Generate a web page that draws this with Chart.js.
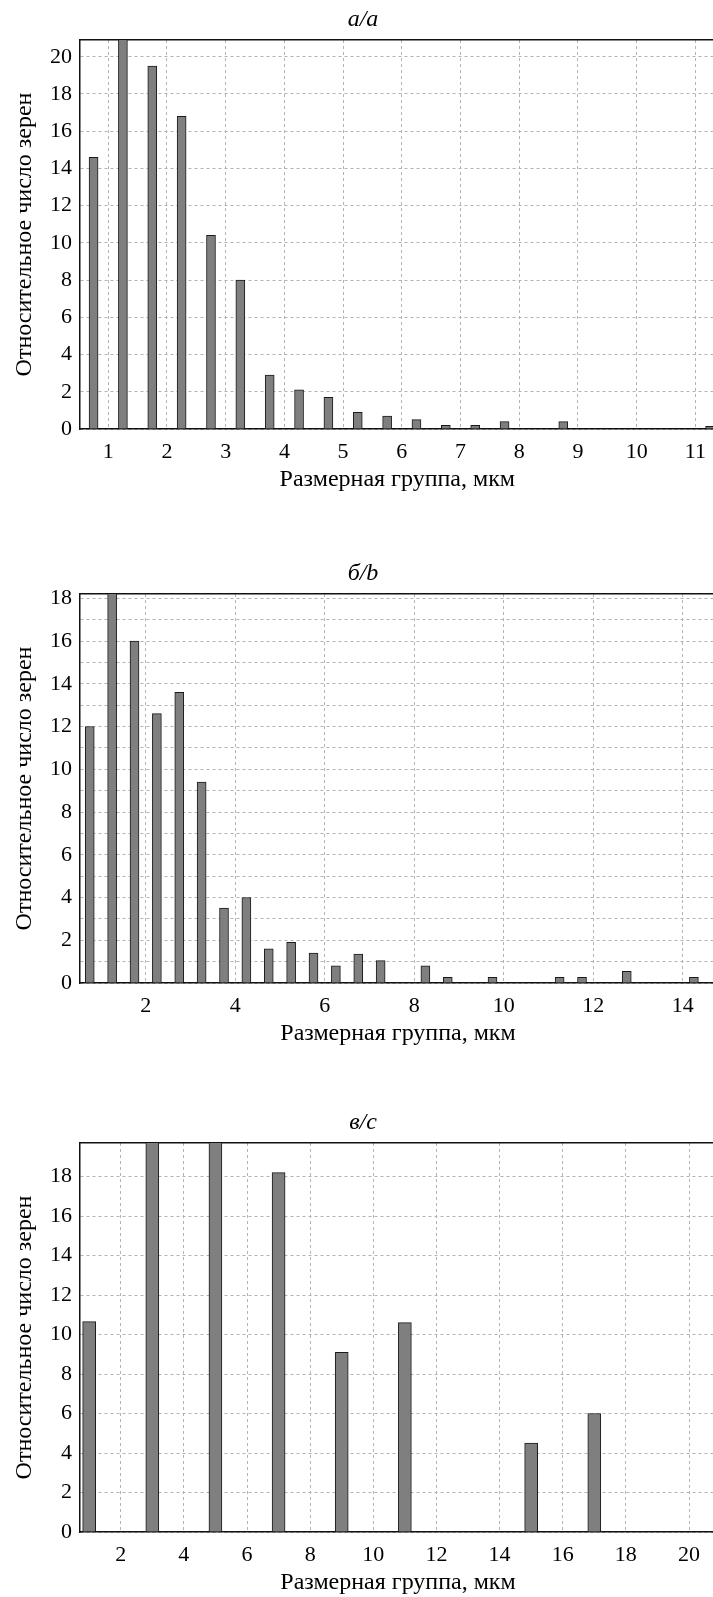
<!DOCTYPE html>
<html lang="ru">
<head>
<meta charset="utf-8">
<title>Распределение зерен по размерным группам</title>
<script src="https://cdn.jsdelivr.net/npm/chart.js@4.4.1/dist/chart.umd.min.js"></script>
<style>
    html, body { margin: 0; padding: 0; background: #fff; }
    body { position: relative; width: 713px; height: 1597px; overflow: hidden; }
    canvas { position: absolute; left: 0; }
</style>
</head>
<body>
<canvas id="chartA" width="716" height="500" style="top:0px"></canvas>
<canvas id="chartB" width="716" height="500" style="top:554px"></canvas>
<canvas id="chartC" width="716" height="500" style="top:1103px"></canvas>
<script>
// panel а/a
const sizesA  = [0.75, 1.25, 1.75, 2.25, 2.75, 3.25, 3.75, 4.25, 4.75, 5.25, 5.75, 6.25, 6.75, 7.25, 7.75, 8.75, 11.25];
const valuesA = [14.6, 21.5, 19.5, 16.8, 10.4, 8.0, 2.9, 2.1, 1.7, 0.9, 0.7, 0.5, 0.2, 0.2, 0.4, 0.4, 0.15];
const xRangeA = [0.519, 11.328];
const yRangeA = [0, 20.9];

// panel б/b
const sizesB  = [0.75, 1.25, 1.75, 2.25, 2.75, 3.25, 3.75, 4.25, 4.75, 5.25, 5.75, 6.25, 6.75, 7.25, 8.25, 8.75, 9.75, 11.25, 11.75, 12.75, 14.25];
const valuesB = [12.0, 18.6, 16.0, 12.6, 13.6, 9.4, 3.5, 4.0, 1.6, 1.9, 1.4, 0.8, 1.35, 1.05, 0.8, 0.27, 0.27, 0.27, 0.27, 0.55, 0.27];
const xRangeB = [0.532, 14.744];
const yRangeB = [0, 18.2];

// panel в/c
const sizesC  = [1, 3, 5, 7, 9, 11, 15, 17];
const valuesC = [10.65, 20.4, 20.4, 18.2, 9.1, 10.6, 4.5, 6.0];
const xRangeC = [0.71, 20.855];
const yRangeC = [0, 19.7];

const yTitle = 'Относительное число зерен';
const xTitle = 'Размерная группа, мкм';

const SERIF = "'Liberation Serif', 'Times New Roman', serif";
const GRID  = '#b3b3b3';
const AXIS  = '#111';

Chart.defaults.font.family = SERIF;
Chart.defaults.color = '#000';

/**
 * one histogram panel
 */
function buildPanel(canvasId, cfg) {
    let canvas = document.getElementById(canvasId);

    return new Chart(canvas, {
        type: 'bar',
        data: {
            datasets: [{
                data           : cfg.sizes.map((x, i) => ({x, y: cfg.values[i]})),
                xAxisID        : 'x',
                yAxisID        : 'y',
                backgroundColor: '#7f7f7f',
                borderColor    : '#1a1a1a',
                borderWidth    : 1,
                barThickness   : cfg.barWidth,
                clip           : 0
            }]
        },
        options: {
            responsive: false,
            animation : false,
            layout    : {padding: {left: 10, right: 0, top: 0, bottom: 0}},
            plugins   : {
                legend : {display: false},
                tooltip: {enabled: false},
                title  : {
                    display: true,
                    text   : cfg.title,
                    color  : '#000',
                    font   : {size: 24, style: 'italic', weight: 'normal', family: SERIF},
                    padding: {top: 5, bottom: 6.2}
                }
            },
            scales: {
                x: {
                    type    : 'linear',
                    position: 'bottom',
                    min     : cfg.xRange[0],
                    max     : cfg.xRange[1],
                    offset  : false,
                    grid    : {offset: false, color: GRID, lineWidth: 1, drawTicks: false},
                    border  : {display: true, color: AXIS, width: 1.5, dash: [3, 3]},
                    ticks   : {
                        stepSize     : cfg.xStep,
                        includeBounds: false,
                        autoSkip     : false,
                        maxRotation  : 0,
                        maxTicksLimit: 100,
                        padding      : 10,
                        font         : {size: 22}
                    },
                    title   : {display: true, text: xTitle, font: {size: 24}, padding: {top: 0, bottom: 6}},
                    afterFit: scale => { scale.height = 71; }
                },
                xTop: {
                    type    : 'linear',
                    axis    : 'x',
                    position: 'top',
                    min     : cfg.xRange[0],
                    max     : cfg.xRange[1],
                    grid    : {display: false, drawTicks: false},
                    border  : {display: true, color: AXIS, width: 1.5},
                    ticks   : {display: false},
                    afterFit: scale => { scale.height = 0; }
                },
                y: {
                    type    : 'linear',
                    position: 'left',
                    min     : cfg.yRange[0],
                    max     : cfg.yRange[1],
                    grid    : {color: GRID, lineWidth: 1, drawTicks: false},
                    border  : {display: true, color: AXIS, width: 1.5, dash: [3, 3]},
                    ticks   : {
                        stepSize     : cfg.yStep,
                        includeBounds: false,
                        autoSkip     : false,
                        maxTicksLimit: 100,
                        padding      : 8,
                        font         : {size: 22},
                        callback     : v => (v % cfg.yLabelEvery === 0 ? v : '')
                    },
                    title   : {display: true, text: yTitle, font: {size: 24}, padding: {top: 0, bottom: 0}},
                    afterFit: scale => { scale.width = 70; }
                }
            }
        }
    });
}

buildPanel('chartA', {
    title: 'а/a', sizes: sizesA, values: valuesA, xRange: xRangeA, yRange: yRangeA,
    xStep: 1, yStep: 2, yLabelEvery: 2, barWidth: 9
});

buildPanel('chartB', {
    title: 'б/b', sizes: sizesB, values: valuesB, xRange: xRangeB, yRange: yRangeB,
    xStep: 2, yStep: 1, yLabelEvery: 2, barWidth: 9
});

buildPanel('chartC', {
    title: 'в/c', sizes: sizesC, values: valuesC, xRange: xRangeC, yRange: yRangeC,
    xStep: 2, yStep: 2, yLabelEvery: 2, barWidth: 13
});
</script>
</body>
</html>
